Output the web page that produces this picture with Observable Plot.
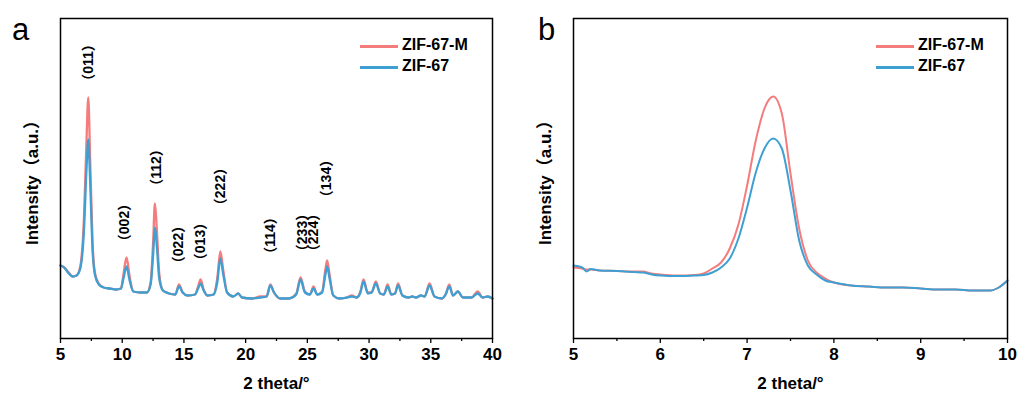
<!DOCTYPE html>
<html>
<head>
<meta charset="utf-8">
<script src="https://cdn.jsdelivr.net/npm/d3@7"></script>
<script src="https://cdn.jsdelivr.net/npm/@observablehq/plot@0.6"></script>
<style>
  html, body { margin: 0; padding: 0; background: #fff; }
  #wrap { position: relative; width: 1021px; height: 403px; font-family: "Liberation Sans", Arial, sans-serif; }
  .panel { position: absolute; top: 0; }
  .letter { position: absolute; font-size: 31px; font-family: "Liberation Sans", Arial, sans-serif; line-height: 1; }
  .leg { position: absolute; font-weight: bold; font-size: 16px; font-family: "Liberation Sans", Arial, sans-serif; }
  .leg .row { position: relative; height: 21px; }
  .leg .sw { position: absolute; left: 0; top: 9px; width: 38px; height: 3px; }
  .leg .lb { position: absolute; left: 42px; top: 1px; white-space: nowrap; line-height: 1; }
</style>
</head>
<body>
<div id="wrap"></div>
<script>
// ---------- Panel a data ----------
const twoThetaA = [5.0,5.3,5.6,6.0,6.3,6.6,6.9,7.1,7.25,7.4,7.6,7.8,8.1,8.5,9.0,9.5,9.9,10.1,10.35,10.6,10.9,11.5,12.0,12.3,12.5,12.65,12.8,13.0,13.3,13.8,14.3,14.6,14.9,15.3,15.9,16.15,16.35,16.6,16.9,17.4,17.7,17.95,18.2,18.5,19.0,19.4,19.7,20.5,21.2,21.7,22.0,22.3,22.8,23.5,24.1,24.45,24.8,25.2,25.5,25.8,26.2,26.45,26.6,26.8,27.1,27.6,28.2,28.6,29.0,29.3,29.55,29.9,30.2,30.55,30.9,31.2,31.5,31.8,32.1,32.35,32.7,33.2,33.5,33.8,34.2,34.5,34.9,35.3,35.9,36.2,36.5,36.8,37.2,37.6,38.3,38.8,39.2,39.6,40.0];
const zif67A = [73,71,66,62,63,70,108,168,199,158,88,63,54,51,50,49,50,60,72,58,47,46,46,54,83,111,93,60,48,45,44,52,46,43,44,50,55,48,43,44,56,80,63,46,42,45,41,40,41,42,53,46,40,40,44,59,46,44,50,44,46,63,72,60,43,40,41,42,41,46,57,45,46,55,45,44,52,44,45,53,43,41,42,41,43,42,53,42,40,44,52,43,47,41,41,45,41,42,40];
const zif67MA = [73,71,67,62,63,72,120,195,241,180,95,65,55,51,50,49,50,64,81,62,47,46,46,56,95,135,110,65,48,45,44,54,46,43,44,52,59,49,43,44,60,87,67,46,42,45,41,40,42,42,54,46,40,40,45,61,47,44,52,44,47,68,78,64,43,40,41,43,41,47,59,46,46,57,45,44,54,44,45,55,43,41,42,41,43,42,55,42,40,44,54,43,47,41,41,47,41,42,40];

// peak labels (hkl)
const hklText = ["（011）","（002）","（112）","（022）","（013）","（222）","（114）","（233）","（224）","（134）"];
const hklX = [7.25,10.2,12.78,14.56,16.34,17.96,22.01,24.6,25.5,26.55];
const hklY = [276,116,171,94,97,152,103,106,106,160];

// ---------- Panel b data ----------
const twoThetaB = [5.0,5.1,5.15,5.2,5.3,5.5,5.7,5.8,5.9,6.0,6.2,6.4,6.5,6.6,6.7,6.8,6.9,7.0,7.1,7.2,7.3,7.4,7.5,7.6,7.7,7.8,7.9,8.0,8.2,8.4,8.6,8.8,9.0,9.2,9.4,9.6,9.8,9.9,10.0];
const zif67MB = [71,70,69,69,68,67.5,67,67,65,64,63,63.5,65,70,76,90,114,153,198,230,242,225,165,110,78,66,60,56,53,52,51,51,50,49,49,48,48,51,58];
const zif67B  = [73,71,67,69.5,68,67.5,66.5,66,64,63,62.5,63,63.5,66,71,80,100,131,166,190,200,190,148,98,73,64,58,56,53,52,51,51,50,49,49,48,48,51,58];

const seriesNames = ["ZIF-67-M", "ZIF-67"];
const seriesColors = ["#F47C7C", "#3EA0D2"];

const ticksA = [5,10,15,20,25,30,35,40];
const minorA = [7.5,12.5,17.5,22.5,27.5,32.5,37.5];
const ticksB = [5,6,7,8,9,10];
const minorB = [5.5,6.5,7.5,8.5,9.5];

const yDomain = [0, 320];
const FONT = "Liberation Sans, Arial, sans-serif";
const FONT_CJK = "Liberation Sans, Noto Sans CJK SC, sans-serif";

function makePanel({width, marginLeft, marginRight, xs, red, blue, xDomain, ticks, minor, labels, sw}) {
  const marks = [
    Plot.line(xs, {x: d => d, y: (d, i) => red[i], stroke: seriesColors[0], strokeWidth: sw, curve: "monotone-x"}),
    Plot.line(xs, {x: d => d, y: (d, i) => blue[i], stroke: seriesColors[1], strokeWidth: sw, curve: "monotone-x"}),
    Plot.frame({stroke: "black", strokeWidth: 1.5}),
    Plot.axisX({ticks: minor, tickSize: 3, text: null, label: null, strokeWidth: 1.3}),
    Plot.axisX({ticks: ticks, tickSize: 5, tickPadding: 4, label: null, fontSize: 17, fontWeight: "bold", fill: "black", strokeWidth: 1.3, tickFormat: d => String(d)}),
    Plot.text(["2 theta/°"], {frameAnchor: "bottom", dy: 50, fontSize: 17, fontWeight: "bold", fill: "black"}),
    Plot.text(["Intensity（a.u.）"], {frameAnchor: "left", textAnchor: "middle", dx: -28, rotate: -90, fontSize: 17, fontWeight: "bold", fill: "black", fontFamily: FONT_CJK})
  ];
  if (labels) {
    marks.push(Plot.text(labels.text, {x: (d, i) => labels.x[i], y: (d, i) => labels.y[i], text: d => d, rotate: -90, fontSize: 14, fontWeight: "bold", fill: "black", fontFamily: FONT_CJK}));
  }
  return Plot.plot({
    width, height: 403,
    marginLeft, marginRight, marginTop: 18, marginBottom: 65,
    style: {fontFamily: FONT, background: "white", color: "black", overflow: "visible"},
    x: {domain: xDomain},
    y: {domain: yDomain, axis: null},
    marks
  });
}

const wrap = document.getElementById("wrap");

const pa = document.createElement("div");
pa.className = "panel"; pa.style.left = "0px";
pa.appendChild(makePanel({width: 510, marginLeft: 60, marginRight: 18, xs: twoThetaA, red: zif67MA, blue: zif67A, xDomain: [5, 40], ticks: ticksA, minor: minorA, labels: {text: hklText, x: hklX, y: hklY}, sw: 2.3}));
wrap.appendChild(pa);

const pb = document.createElement("div");
pb.className = "panel"; pb.style.left = "510px";
pb.appendChild(makePanel({width: 511, marginLeft: 63, marginRight: 14, xs: twoThetaB, red: zif67MB, blue: zif67B, xDomain: [5, 10], ticks: ticksB, minor: minorB, labels: null, sw: 2}));
wrap.appendChild(pb);

// panel letters
[["a", 12, 14], ["b", 538, 14]].forEach(([t, l, tp]) => {
  const d = document.createElement("div");
  d.className = "letter"; d.textContent = t; d.style.left = l + "px"; d.style.top = tp + "px";
  wrap.appendChild(d);
});

// legends
[360, 876].forEach(left => {
  const lg = document.createElement("div");
  lg.className = "leg"; lg.style.left = left + "px"; lg.style.top = "36px";
  seriesNames.forEach((n, i) => {
    const r = document.createElement("div"); r.className = "row";
    const s = document.createElement("div"); s.className = "sw"; s.style.background = seriesColors[i];
    const l = document.createElement("div"); l.className = "lb"; l.textContent = n;
    r.appendChild(s); r.appendChild(l); lg.appendChild(r);
  });
  wrap.appendChild(lg);
});
</script>
</body>
</html>
